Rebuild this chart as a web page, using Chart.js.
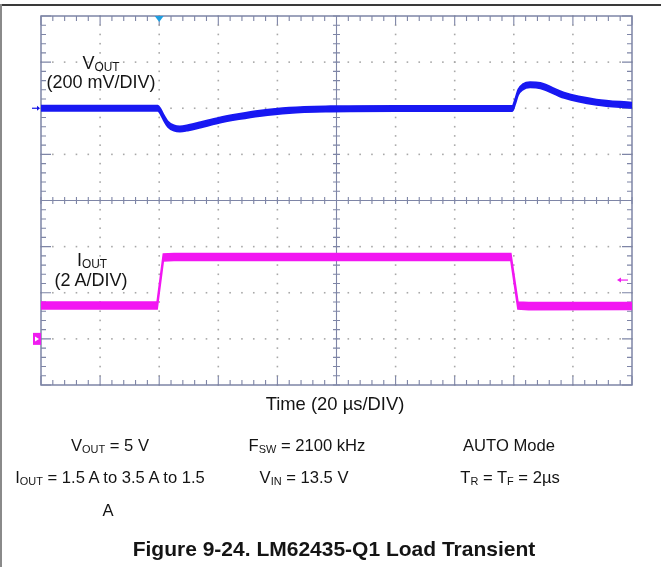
<!DOCTYPE html>
<html>
<head>
<meta charset="utf-8">
<script src="https://cdn.jsdelivr.net/npm/chart.js@4.4.1/dist/chart.umd.min.js"></script>
<style>
body{margin:0;background:#fff}
#wrap{position:relative;width:661px;height:567px;overflow:hidden;font-family:"Liberation Sans",Arial,sans-serif;color:#141414;background:#fff}
#wrap canvas{position:absolute;left:0;top:0}
.t{position:absolute;white-space:nowrap;line-height:1}
.t sub{font-size:0.66em;vertical-align:-0.2em;line-height:0}
.rule{position:absolute}
</style>
</head>
<body>
<div id="wrap">
<div class="rule" style="left:0;top:4px;width:661px;height:1.5px;background:#3a3a3a"></div>
<div class="rule" style="left:0;top:4px;width:1.5px;height:563px;background:#8a8a8a"></div>
<canvas id="scope" width="661" height="567"></canvas>
</div>
<script>
// time axis in µs (20 µs/DIV), vertical axis in divisions
var timeMajor = [0, 20, 40, 60, 80, 100, 120, 140, 160, 180, 200]
var divMajor = [-4, -3, -2, -1, 0, 1, 2, 3, 4]

// VOUT deviation (mV), 200 mV/DIV
var timeV = [0, 39.5, 40.5, 41.5, 43, 45, 47, 50, 54, 60, 67, 74, 84, 98, 120, 159.5, 160.5, 161.5, 163, 165.5, 169, 177, 188, 200]
var voutMv = [0, 0, -15, -40, -70, -86, -90, -84, -72, -53, -36, -22, -9, -3, -1, -1, 30, 70, 92, 102, 98, 56, 26, 13]

// IOUT (A), 2 A/DIV
var timeI = [0, 39.3, 41.4, 45, 100, 159, 161.4, 165, 200]
var ioutA = [1.45, 1.45, 3.53, 3.55, 3.55, 3.55, 1.45, 1.42, 1.43]

// half thickness of the noise band on each trace, in divisions
var vNoiseDiv = 0.06, iNoiseDiv = 0.075

var vOffsetDiv = 2, mvPerDiv = 200
var iOffsetDiv = -3, ampPerDiv = 2
var trigTime = 40, trigLevelA = 2.55

function Elem(id){ return document.getElementById(id) }

function addText(html, x, base, size, align, bold){
    var d = document.createElement("div")
    d.className = "t"
    d.innerHTML = html
    d.style.fontSize = size + "px"
    d.style.top = (base - 0.8465 * size) + "px"
    if(bold){ d.style.fontWeight = "bold" }
    d.style.left = x + "px"
    if(align == "center"){ d.style.transform = "translateX(-50%)" }
    Elem("wrap").appendChild(d)
}

var scopeGrid = {
    id: "scopeGrid",
    beforeDatasetsDraw: function(chart){
        var ctx = chart.ctx, xs = chart.scales.x, ys = chart.scales.y, a = chart.chartArea
        ctx.save()
        // dotted graticule
        ctx.fillStyle = "#a8a8a8"
        for(var i = 1; i < timeMajor.length - 1; i++){
            if(timeMajor[i] == 100){ continue }
            var px = xs.getPixelForValue(timeMajor[i])
            for(var k = -20; k <= 20; k++){
                var py = ys.getPixelForValue(k / 5)
                ctx.fillRect(px - 0.8, py - 0.8, 1.6, 1.6)
            }
        }
        for(var j = 1; j < divMajor.length - 1; j++){
            if(divMajor[j] == 0){ continue }
            var py2 = ys.getPixelForValue(divMajor[j])
            for(var t = 0; t <= 200; t += 4){
                var px2 = xs.getPixelForValue(t)
                ctx.fillRect(px2 - 0.8, py2 - 0.8, 1.6, 1.6)
            }
        }
        // frame
        ctx.strokeStyle = "#7e85a6"
        ctx.lineWidth = 1.5
        ctx.strokeRect(a.left, a.top, a.right - a.left, a.bottom - a.top)
        // center cross with ticks
        var cx = xs.getPixelForValue(100), cy = ys.getPixelForValue(0)
        ctx.lineWidth = 1.1
        ctx.beginPath()
        ctx.moveTo(cx, a.top); ctx.lineTo(cx, a.bottom)
        ctx.moveTo(a.left, cy); ctx.lineTo(a.right, cy)
        for(var t2 = 0; t2 <= 200; t2 += 4){
            var x = xs.getPixelForValue(t2)
            var len = (t2 % 20 == 0) ? 9 : 5
            ctx.moveTo(x, a.bottom); ctx.lineTo(x, a.bottom - len)
            ctx.moveTo(x, a.top); ctx.lineTo(x, a.top + len)
            ctx.moveTo(x, cy - 3.5); ctx.lineTo(x, cy + 3.5)
        }
        for(var k2 = -20; k2 <= 20; k2++){
            var y = ys.getPixelForValue(k2 / 5)
            var len2 = (k2 % 5 == 0) ? 10 : 5
            ctx.moveTo(a.left, y); ctx.lineTo(a.left + len2, y)
            ctx.moveTo(a.right, y); ctx.lineTo(a.right - len2, y)
            ctx.moveTo(cx - 3.5, y); ctx.lineTo(cx + 3.5, y)
        }
        ctx.stroke()
        ctx.restore()
    },
    afterDatasetsDraw: function(chart){
        var ctx = chart.ctx, xs = chart.scales.x, ys = chart.scales.y, a = chart.chartArea
        ctx.save()
        // CH1 (VOUT) reference arrow
        var vy = ys.getPixelForValue(vOffsetDiv)
        ctx.strokeStyle = "#1414e6"; ctx.fillStyle = "#1414e6"; ctx.lineWidth = 1.2
        ctx.beginPath(); ctx.moveTo(a.left - 9, vy); ctx.lineTo(a.left - 2, vy); ctx.stroke()
        ctx.beginPath(); ctx.moveTo(a.left - 1, vy); ctx.lineTo(a.left - 4, vy - 2.5); ctx.lineTo(a.left - 4, vy + 2.5); ctx.fill()
        // CH2 (IOUT) reference marker
        var iy = ys.getPixelForValue(iOffsetDiv)
        ctx.fillStyle = "#f01cf0"
        ctx.fillRect(a.left - 8, iy - 6, 8, 12)
        ctx.fillStyle = "#fff"
        ctx.beginPath(); ctx.moveTo(a.left - 6, iy - 2.5); ctx.lineTo(a.left - 2, iy); ctx.lineTo(a.left - 6, iy + 2.5); ctx.fill()
        // trigger position
        var tx = xs.getPixelForValue(trigTime)
        ctx.fillStyle = "#1f9ee0"
        ctx.beginPath(); ctx.moveTo(tx - 4.5, a.top); ctx.lineTo(tx + 4.5, a.top); ctx.lineTo(tx, a.top + 6); ctx.fill()
        // trigger level
        var ly = ys.getPixelForValue(iOffsetDiv + trigLevelA / ampPerDiv)
        ctx.strokeStyle = "#f01cf0"; ctx.fillStyle = "#f01cf0"; ctx.lineWidth = 1.2
        ctx.beginPath(); ctx.moveTo(a.right - 4, ly); ctx.lineTo(a.right - 13, ly); ctx.stroke()
        ctx.beginPath(); ctx.moveTo(a.right - 15, ly); ctx.lineTo(a.right - 11, ly - 2.5); ctx.lineTo(a.right - 11, ly + 2.5); ctx.fill()
        ctx.restore()
    }
}

// each trace is drawn as a noise band: an upper and a lower edge filled between
function band(times, values, offset, perDiv, noise, color, smooth){
    var hi = times.map(function(t, i){ return {x: t, y: offset + values[i] / perDiv + noise} })
    var lo = times.map(function(t, i){ return {x: t, y: offset + values[i] / perDiv - noise} })
    var common = {borderColor: color, backgroundColor: color, borderWidth: 1.6, pointRadius: 0}
    if(smooth){ common.cubicInterpolationMode = "monotone" } else { common.tension = 0 }
    return [
        Object.assign({data: hi, fill: false}, common),
        Object.assign({data: lo, fill: "-1"}, common)
    ]
}

var datasets = band(timeV, voutMv, vOffsetDiv, mvPerDiv, vNoiseDiv, "rgb(24, 24, 242)", true)
    .concat(band(timeI, ioutA, iOffsetDiv, ampPerDiv, iNoiseDiv, "rgb(242, 22, 242)", false))

new Chart(Elem("scope"), {
    type: "line",
    data: {datasets: datasets},
    options: {
        responsive: false,
        animation: false,
        devicePixelRatio: 1,
        layout: {padding: {left: 41, top: 16, right: 29, bottom: 182}},
        scales: {
            x: {type: "linear", min: 0, max: 200, display: false},
            y: {type: "linear", min: -4, max: 4, display: false}
        },
        plugins: {legend: {display: false}, tooltip: {enabled: false}, filler: {propagate: false}}
    },
    plugins: [scopeGrid]
})

// labels inside the screen
addText("V<sub>OUT</sub>", 101, 69, 18, "center")
addText("(200 mV/DIV)", 101, 88, 18, "center")
addText("I<sub>OUT</sub>", 92, 266, 18, "center")
addText("(2 A/DIV)", 91, 286, 18, "center")
// axis label and conditions
addText("Time (20 µs/DIV)", 335, 411, 18.4, "center")
addText("V<sub>OUT</sub> = 5 V", 110, 452, 16.6, "center")
addText("F<sub>SW</sub> = 2100 kHz", 307, 452, 16.6, "center")
addText("AUTO Mode", 509, 452, 16.6, "center")
addText("I<sub>OUT</sub> = 1.5 A to 3.5 A to 1.5", 110, 484, 16.6, "center")
addText("V<sub>IN</sub> = 13.5 V", 304, 484, 16.6, "center")
addText("T<sub>R</sub> = T<sub>F</sub> = 2µs", 510, 484, 16.6, "center")
addText("A", 108, 517, 16.6, "center")
addText("Figure 9-24. LM62435-Q1 Load Transient", 334, 556, 21, "center", true)
</script>
</body>
</html>
